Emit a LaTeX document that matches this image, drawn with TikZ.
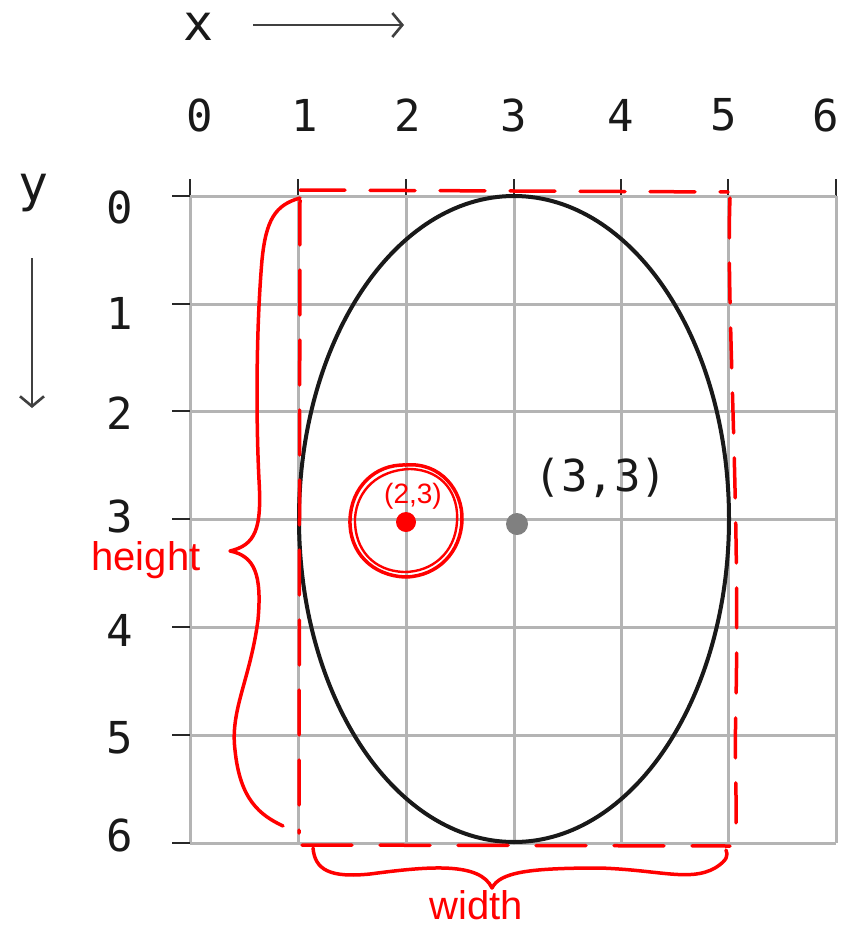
\documentclass[tikz,border=0pt]{standalone}
\usepackage{fontspec}
\setmonofont{DejaVu Sans Mono}
\newfontfamily\handfont{Liberation Sans}
\usetikzlibrary{arrows.meta}
\definecolor{gridgray}{RGB}{180,180,180}
\definecolor{tickdark}{RGB}{40,40,40}
\definecolor{dotgray}{RGB}{128,128,128}
\definecolor{ink}{RGB}{255,0,0}
\tikzset{
  gridline/.style={draw=gridgray, line width=3pt},
  tickmark/.style={draw=tickdark, line width=2.6pt},
  numlabel/.style={font=\ttfamily\fontsize{44}{44}\selectfont, text=black!90, inner sep=0pt},
  axislabel/.style={font=\ttfamily\fontsize{50}{50}\selectfont, text=black!90, inner sep=0pt},
  axisarrow/.style={draw=black!75, line width=2.6pt, -{Straight Barb[length=10pt,width=24pt,line width=2.6pt]}},
  redpen/.style={draw=ink, line width=3.5pt, line cap=round, line join=round},
  redtext/.style={font=\handfont\fontsize{40}{40}\selectfont, text=ink, inner sep=0pt},
}
\begin{document}
\begin{tikzpicture}[x=1pt,y=-1pt]
\useasboundingbox (0,0) rectangle (842,929);
% grid
\foreach \gx in {190,298,406,514,621,728,836}{
  \draw[gridline] (\gx,196) -- (\gx,843);
  \draw[tickmark] (\gx,179) -- (\gx,196);
}
\foreach \gy in {196,304,411,519,627,735,843}{
  \draw[gridline] (190,\gy) -- (836,\gy);
  \draw[tickmark] (172,\gy) -- (190,\gy);
}
% x labels
\node[numlabel] (x0) at (200,115) {0};
\node[numlabel] (x1) at (305,115) {1};
\node[numlabel] (x2) at (408,115) {2};
\node[numlabel] (x3) at (514,115) {3};
\node[numlabel] (x4) at (621,115) {4};
\node[numlabel] (x5) at (724,115) {5};
\node[numlabel] (x6) at (826,115) {6};
% y labels
\node[numlabel] (y0) at (120,207) {0};
\node[numlabel] (y1) at (120,313) {1};
\node[numlabel] (y2) at (120,413) {2};
\node[numlabel] (y3) at (120,516) {3};
\node[numlabel] (y4) at (120,630) {4};
\node[numlabel] (y5) at (120,738) {5};
\node[numlabel] (y6) at (120,835) {6};
% axis names and arrows
\node[axislabel] (xname) at (199,27) {x};
\node[axislabel] (yname) at (34,193) {y};
\coordinate (xa) at (253,25);
\coordinate (xb) at (404,25);
\coordinate (ya) at (32,258);
\coordinate (yb) at (32,408);
\draw[axisarrow] (xa) -- (xb);
\draw[axisarrow] (ya) -- (yb);
% ellipse
\coordinate (centre) at (514,519);
\draw[black!90, line width=4pt] (centre) ellipse [x radius=215, y radius=323];
% gray centre dot
\fill[dotgray] (517,524) circle [radius=11];
\node[numlabel, anchor=center] (c33) at (601,478) {(3,3)};
% red annotations
\fill[ink] (406,522) circle [radius=10];
\node[font=\handfont\fontsize{28}{28}\selectfont, text=ink, inner sep=0pt] (c23) at (413,496) {(2,3)};
\draw[redpen] (406,465) .. controls (440,462) and (463,490) .. (462,520)
  .. controls (461,552) and (438,576) .. (406,577)
  .. controls (372,576) and (349,552) .. (350,520)
  .. controls (351,488) and (374,464) .. (406,465);
\draw[redpen, line width=2.4pt] (410,469) .. controls (444,470) and (459,495) .. (457,522)
  .. controls (455,553) and (432,572) .. (404,572)
  .. controls (374,571) and (354,550) .. (355,518)
  .. controls (357,490) and (378,470) .. (410,469);
% dashed red rectangle
\draw[redpen, dash pattern=on 45pt off 25pt] (300,190) -- (728,192);
\draw[redpen, dash pattern=on 45pt off 25pt] (300,200) -- (299,833);
\draw[redpen, dash pattern=on 40pt off 25pt] (730,198) .. controls (726,300) and (740,500) .. (736,700) .. controls (734,780) and (738,810) .. (735,838);
\draw[redpen, dash pattern=on 50pt off 28pt] (302,845) -- (730,846);
% left brace "height"
\draw[redpen] (300,198) .. controls (275,205) and (266,220) .. (262,260)
  .. controls (256,330) and (256,420) .. (259,480)
  .. controls (262,530) and (255,545) .. (230,551)
  .. controls (255,556) and (262,575) .. (258,620)
  .. controls (250,680) and (230,710) .. (235,750)
  .. controls (240,800) and (260,815) .. (283,826);
\node[redtext] (height) at (146,560) {height};
% bottom brace "width"
\draw[redpen] (313,848) .. controls (315,870) and (330,878) .. (370,874)
  .. controls (430,866) and (480,862) .. (492,888)
  .. controls (500,872) and (530,868) .. (600,868)
  .. controls (660,870) and (690,882) .. (715,868)
  .. controls (728,860) and (728,855) .. (726,850);
\node[redtext] (width) at (476,905) {width};
\end{tikzpicture}
\end{document}
